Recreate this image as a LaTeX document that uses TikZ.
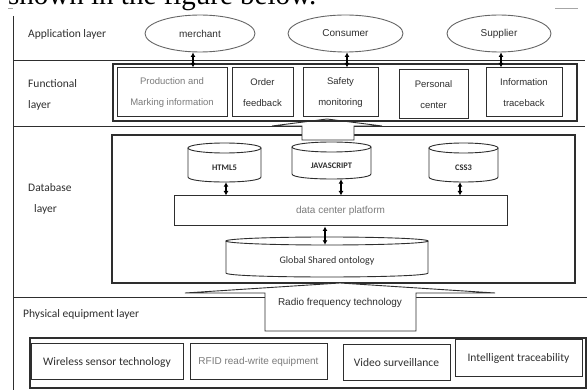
\documentclass[tikz,border=0pt]{standalone}
\usepackage{fontspec}
\setmainfont{Liberation Sans}
\newfontfamily\calfont{Carlito}
\newfontfamily\docserif{Liberation Serif}
\usetikzlibrary{arrows.meta,shapes.geometric}

\definecolor{ink}{HTML}{2E2E2E}
\definecolor{soft}{HTML}{7A7A7A}

\tikzset{
  sepline/.style={draw=ink, line width=0.9pt},
  actor/.style={ellipse, draw=black!60, line width=0.9pt, minimum width=#1,
    minimum height=37pt, inner sep=0pt, font=\fontsize{10}{12}\selectfont, text=ink},
  func/.style={draw=ink, line width=1pt, minimum height=49pt, align=center,
    inner sep=0pt, font=\fontsize{9.5}{21}\selectfont, text=ink},
  framebox/.style={draw=ink, line width=1.2pt, inner sep=0pt},
  cylnode/.style={inner sep=0pt, font=\calfont\bfseries\fontsize{8.5}{10}\selectfont, text=ink},
  cylline/.style={draw=ink, line width=0.9pt},
  dbl/.style={{Latex[length=4.5pt,width=5pt]}-{Latex[length=4.5pt,width=5pt]},
    line width=1.1pt, black},
  layerlbl/.style={anchor=west, inner sep=0pt, font=\calfont\fontsize{11.5}{21}\selectfont,
    text=ink, align=left},
  device/.style={draw=ink, line width=1pt, minimum height=36pt, inner sep=0pt,
    font=\calfont\fontsize{11.5}{14}\selectfont, text=ink},
  blockarrow/.style={draw=ink, line width=0.9pt, fill=white},
}

% database cylinder: name, left, right, top, bottom, radius of the end ellipse, label
\newcommand\dbcyl[7]{%
  \draw[cylline] ({#2},{#4+#6}) -- ({#2},{#5-#6})
    .. controls ({#2},{#5-#6+4/3*#6}) and ({#3},{#5-#6+4/3*#6}) .. ({#3},{#5-#6})
    -- ({#3},{#4+#6});
  \draw[cylline] ({(#2+#3)/2},{#4+#6}) ellipse[x radius={(#3-#2)/2}, y radius={#6}];
  \node[cylnode, minimum width={(#3-#2)*1pt}, minimum height={(#5-#4-2*#6)*1pt}]
    (#1) at ({(#2+#3)/2},{(#4+2*#6+#5)/2}) {\raisebox{-2pt}{#7}};
}

\begin{document}
\begin{tikzpicture}[x=1pt,y=-1pt]
\useasboundingbox (0,0) rectangle (587,390);
\clip (0,0) rectangle (587,390);

% running text of the page above the figure
\node[anchor=base west, inner sep=0pt, font=\docserif\fontsize{29}{29}\selectfont]
  (pagetext) at (8,4.5) {shown in the figure below.};

% frame and layer separators
\draw[black!35, line width=0.8pt] (8,8) -- (13,8);
\draw[black!35, line width=0.8pt] (555,8) -- (578,8);
\draw[sepline] (13,16) -- (13,392);
\draw[sepline] (13,60) -- (585,60);
\draw[sepline] (13,126) -- (585,126);
\draw[sepline] (13,297) -- (587,297);

% layer titles
\node[layerlbl] (lapp) at (28,34) {Application layer};
\node[layerlbl] (lfun) at (28,94.5) {Functional\\layer};
\node[layerlbl] (ldb) at (28,198.5) {Database\\\hspace*{6pt}layer};
\node[layerlbl] (lphy) at (23,314) {Physical equipment layer};

% database layer
\node[draw=ink, line width=1.1pt, minimum width=463pt, minimum height=148pt, inner sep=0pt]
  (dbframe) at (343.5,209) {};
\dbcyl{html}{188}{261}{143}{182}{5}{HTML5}
\dbcyl{js}{292}{371}{142}{179}{5}{JAVASCRIPT}
\dbcyl{css}{429}{498}{143}{182}{5}{CSS3}
\dbcyl{gso}{226}{428}{237}{277}{4}{\mdseries\fontsize{10}{12}\selectfont Global Shared ontology}
\node[draw=ink, line width=1pt, minimum width=333pt, minimum height=30pt, inner sep=0pt,
  font=\fontsize{10}{12}\selectfont, text=soft] (dcp) at (340.5,211) {data center platform};

\draw[dbl] (html.south -| 226,0) -- (dcp.north -| 226,0);
\draw[dbl] (js.south -| 341,0) -- (dcp.north -| 341,0);
\draw[dbl] (css.south -| 460,0) -- (dcp.north -| 460,0);
\draw[dbl] (dcp.south -| 325,0) -- (gso.north -| 325,0);

% block arrows between the layers
\draw[blockarrow] (302,140) -- (302,126) -- (272,126) -- (327,119) -- (382,126)
  -- (354,126) -- (354,140) -- cycle;
\draw[blockarrow] (265,331) -- (265,293) -- (185,293) -- (340,283) -- (495,293)
  -- (416,293) -- (416,331) -- cycle;
\node[inner sep=0pt, font=\fontsize{10}{12}\selectfont, text=ink] (rft) at (340,303)
  {Radio frequency technology};

% functional layer
\node[framebox, minimum width=464pt, minimum height=57pt] (funcframe) at (345,92.5) {};
\node[func, minimum width=110pt, text=soft] (prod) at (172,92.5) {Production and\\Marking information};
\node[func, minimum width=61pt] (order) at (262.5,92.5) {Order\\feedback};
\node[func, minimum width=75pt] (safety) at (340.5,92.5) {Safety\\monitoring};
\node[func, minimum width=69pt] (personal) at (433.5,94.5) {Personal\\center};
\node[func, minimum width=76pt] (info) at (524,92.5) {Information\\traceback};

% application layer
\node[actor=110pt] (merchant) at (200,33.5) {merchant};
\node[actor=115pt] (consumer) at (345.5,33.5) {Consumer};
\node[actor=104pt] (supplier) at (499,33.5) {Supplier};

\draw[dbl] (merchant.south -| 193,0) -- (prod.north -| 193,0);
\draw[dbl] (consumer.south -| 347,0) -- (safety.north -| 347,0);
\draw[dbl] (supplier.south -| 501,0) -- (info.north -| 501,0);

% physical equipment layer
\node[framebox, minimum width=556pt, minimum height=50pt] (devframe) at (308,363) {};
\node[device, minimum width=152pt] (wst) at (107,362) {Wireless sensor technology};
\node[device, minimum width=137pt, font=\fontsize{10}{12}\selectfont, text=soft]
  (rfid) at (258.5,362) {RFID read-write equipment};
\node[device, minimum width=107pt] (video) at (396.5,363) {Video surveillance};
\node[device, minimum width=127pt, minimum height=37pt] (intel) at (518.5,358.5) {Intelligent traceability};
\end{tikzpicture}
\end{document}
